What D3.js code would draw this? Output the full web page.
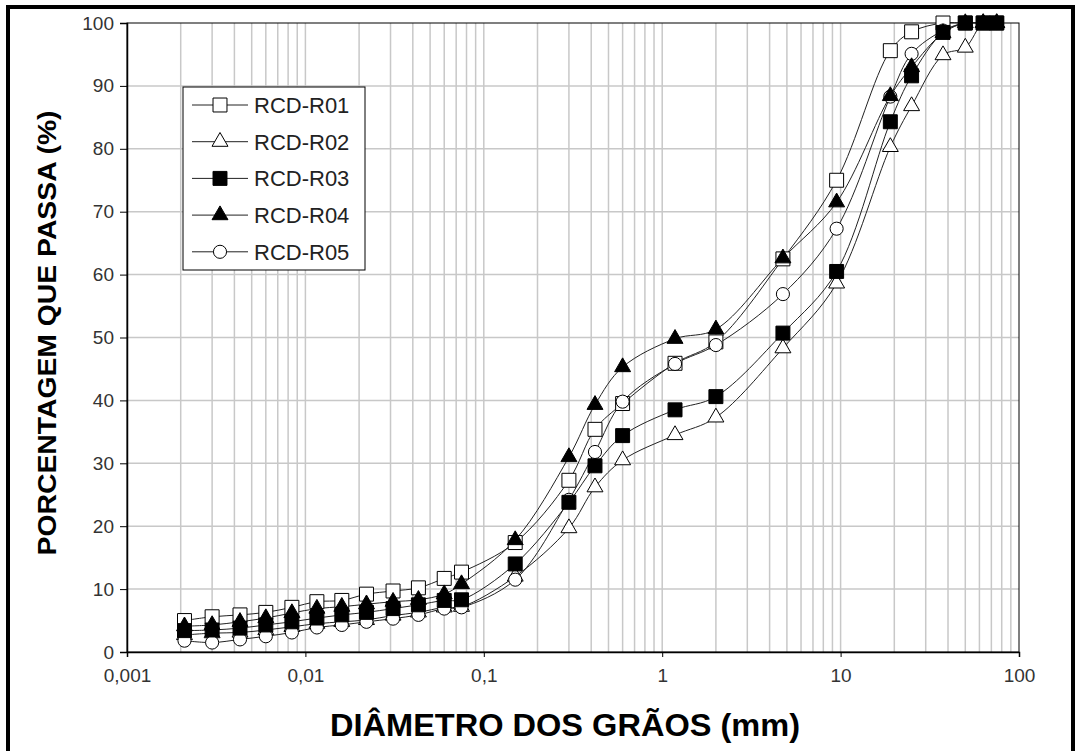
<!DOCTYPE html>
<html>
<head>
<meta charset="utf-8">
<script src="https://cdn.jsdelivr.net/npm/d3@7"></script>
<style>
  body { margin: 0; background: #fff; }
  .axis text { font-family: "Liberation Sans", Arial, sans-serif; font-size: 19px; fill: #333; }
</style>
</head>
<body>
<div id="graph1"></div>
<script>
// Curva granulometrica - RCD
var w = 1078;
var h = 751;

// diametros (mm): sedimentacao + peneiras
var diametros = [0.0021, 0.003, 0.0043, 0.006, 0.0084, 0.0116, 0.016, 0.022, 0.031, 0.043, 0.06, 0.075,
    0.15, 0.3, 0.42, 0.6, 1.18, 2.0, 4.75, 9.5, 19, 25, 37.5, 50, 63, 75];

var rcdR01 = [5.0, 5.6, 5.9, 6.3, 7.1, 8.0, 8.2, 9.2, 9.7, 10.2, 11.7, 12.7,
    17.4, 27.3, 35.4, 39.5, 45.9, 49.3, 62.5, 75.0, 95.6, 98.6, 100, 100, 100, 100];
var rcdR02 = [2.7, 3.0, 3.1, 3.5, 4.0, 4.5, 4.8, 5.1, 5.8, 6.3, 7.1, 7.2,
    12.0, 19.7, 26.2, 30.5, 34.5, 37.3, 48.3, 58.6, 80.3, 86.8, 94.9, 96.1, 100, 100];
var rcdR03 = [3.4, 3.5, 3.8, 4.3, 4.8, 5.4, 5.9, 6.3, 6.9, 7.5, 8.2, 8.3,
    14.0, 23.8, 29.6, 34.4, 38.5, 40.6, 50.7, 60.5, 84.3, 91.6, 98.5, 100, 100, 100];
var rcdR04 = [4.1, 4.3, 4.8, 5.4, 6.2, 6.9, 7.2, 7.6, 8.0, 8.3, 9.2, 10.8,
    17.8, 31.0, 39.3, 45.3, 49.8, 51.3, 62.6, 71.5, 88.4, 93.0, 98.4, 100, 100, 100];
var rcdR05 = [1.8, 1.5, 2.0, 2.5, 3.1, 3.9, 4.3, 4.8, 5.3, 5.9, 6.9, 7.1,
    11.5, 24.2, 31.8, 39.8, 45.8, 48.8, 56.9, 67.3, 88.3, 95.1, 98.8, 100, 100, 100];

var names = ["RCD-R01", "RCD-R02", "RCD-R03", "RCD-R04", "RCD-R05"];
var xTicks = [0.001, 0.01, 0.1, 1, 10, 100];
var xTickLabels = ["0,001", "0,01", "0,1", "1", "10", "100"];
var yTicks = [0, 10, 20, 30, 40, 50, 60, 70, 80, 90, 100];

var series = [rcdR01, rcdR02, rcdR03, rcdR04, rcdR05];
// ordem de desenho dos marcadores (cheios por cima)
var drawOrder = [0, 1, 4, 2, 3];
var markers = [
    { type: d3.symbolSquare, size: 195, fill: "#fff" },
    { type: d3.symbolTriangle, size: 110, fill: "#fff" },
    { type: d3.symbolSquare, size: 195, fill: "#000" },
    { type: d3.symbolTriangle, size: 110, fill: "#000" },
    { type: d3.symbolCircle, size: 135, fill: "#fff" }
];

var svg = d3.select("#graph1")
    .append("svg")
    .attr("width", w)
    .attr("height", h);

// moldura externa
svg.append("rect")
    .attr("x", 8)
    .attr("y", 7)
    .attr("width", 1065)
    .attr("height", 800)
    .attr("fill", "none")
    .attr("stroke", "#000")
    .attr("stroke-width", 4);

var xScale = d3.scaleLog()
    .domain([0.001, 100])
    .range([127, 1019]);

var yScale = d3.scaleLinear()
    .domain([0, 100])
    .range([652, 23]);

// grade vertical (2..9 por decada)
var gridX = [];
xTicks.slice(0, -1).forEach(function (d) {
    for (var m = 1; m <= 9; m++) gridX.push(d * m);
});
svg.append("g")
    .selectAll("line")
    .data(gridX.slice(1))
    .enter()
    .append("line")
    .attr("x1", function (d) { return xScale(d); })
    .attr("x2", function (d) { return xScale(d); })
    .attr("y1", yScale(0))
    .attr("y2", yScale(100))
    .attr("stroke", "#c8c8c8")
    .attr("stroke-width", 1.5);

// grade horizontal
svg.append("g")
    .selectAll("line")
    .data(yTicks.slice(1, -1))
    .enter()
    .append("line")
    .attr("x1", xScale(0.001))
    .attr("x2", xScale(100))
    .attr("y1", function (d) { return yScale(d); })
    .attr("y2", function (d) { return yScale(d); })
    .attr("stroke", "#c8c8c8")
    .attr("stroke-width", 1.5);

// borda da area de plotagem
svg.append("rect")
    .attr("x", xScale(0.001))
    .attr("y", yScale(100))
    .attr("width", xScale(100) - xScale(0.001))
    .attr("height", yScale(0) - yScale(100))
    .attr("fill", "none")
    .attr("stroke", "#000")
    .attr("stroke-width", 1);

//Define X axis
var xAxis = d3.axisBottom()
    .scale(xScale)
    .tickValues(xTicks)
    .tickSize(5)
    .tickPadding(12)
    .tickFormat(function (d, i) { return xTickLabels[i]; });

//Define Y axis
var yAxis = d3.axisLeft()
    .scale(yScale)
    .tickValues(yTicks)
    .tickSize(7)
    .tickPadding(6);

svg.append("g")
    .attr("class", "axis")
    .attr("transform", "translate(0," + yScale(0) + ")")
    .call(xAxis)
    .call(function (g) {
        g.select(".domain").attr("stroke-width", 1.5);
    });

svg.append("g")
    .attr("class", "axis")
    .attr("transform", "translate(" + xScale(0.001) + ",0)")
    .call(yAxis)
    .call(function (g) {
        g.select(".domain").attr("stroke-width", 1.5);
    });

// linhas suavizadas
var line = d3.line()
    .x(function (d) { return xScale(d[0]); })
    .y(function (d) { return yScale(d[1]); })
    .curve(d3.curveCatmullRom.alpha(0.5));

series.forEach(function (s, i) {
    var pts = diametros.map(function (d, j) { return [d, s[j]]; });
    svg.append("path")
        .datum(pts)
        .attr("d", line)
        .attr("fill", "none")
        .attr("stroke", "#222")
        .attr("stroke-width", 1);
});

drawOrder.forEach(function (i) {
    var pts = diametros.map(function (d, j) { return [d, series[i][j]]; });
    svg.append("g")
        .selectAll("path")
        .data(pts)
        .enter()
        .append("path")
        .attr("transform", function (d) {
            return "translate(" + xScale(d[0]) + "," + yScale(d[1]) + ")";
        })
        .attr("d", d3.symbol().type(markers[i].type).size(markers[i].size))
        .attr("fill", markers[i].fill)
        .attr("stroke", "#000")
        .attr("stroke-width", 1);
});

// legenda
var legend = svg.append("g");
legend.append("rect")
    .attr("x", 183)
    .attr("y", 87)
    .attr("width", 182)
    .attr("height", 183)
    .attr("fill", "#fff")
    .attr("stroke", "#000")
    .attr("stroke-width", 1);

names.forEach(function (name, i) {
    var ly = 105 + i * 36.7;
    legend.append("line")
        .attr("x1", 192)
        .attr("x2", 248)
        .attr("y1", ly)
        .attr("y2", ly)
        .attr("stroke", "#222")
        .attr("stroke-width", 1);
    legend.append("path")
        .attr("transform", "translate(220," + ly + ")")
        .attr("d", d3.symbol().type(markers[i].type).size(markers[i].size))
        .attr("fill", markers[i].fill)
        .attr("stroke", "#000");
    legend.append("text")
        .attr("x", 254)
        .attr("y", ly + 8)
        .attr("font-family", "Liberation Sans, Arial, sans-serif")
        .attr("font-size", 22)
        .attr("fill", "#222")
        .text(name);
});

// titulos dos eixos
svg.append("text")
    .attr("transform", "translate(56,333) rotate(-90)")
    .attr("text-anchor", "middle")
    .attr("font-family", "Liberation Sans, Arial, sans-serif")
    .attr("font-weight", "bold")
    .attr("font-size", 26)
    .attr("textLength", 445)
    .attr("lengthAdjust", "spacingAndGlyphs")
    .attr("fill", "#000")
    .text("PORCENTAGEM QUE PASSA (%)");

svg.append("text")
    .attr("x", 565)
    .attr("y", 736)
    .attr("text-anchor", "middle")
    .attr("font-family", "Liberation Sans, Arial, sans-serif")
    .attr("font-weight", "bold")
    .attr("font-size", 32)
    .attr("textLength", 470)
    .attr("lengthAdjust", "spacingAndGlyphs")
    .attr("fill", "#000")
    .text("DIÂMETRO DOS GRÃOS (mm)");
</script>
</body>
</html>
